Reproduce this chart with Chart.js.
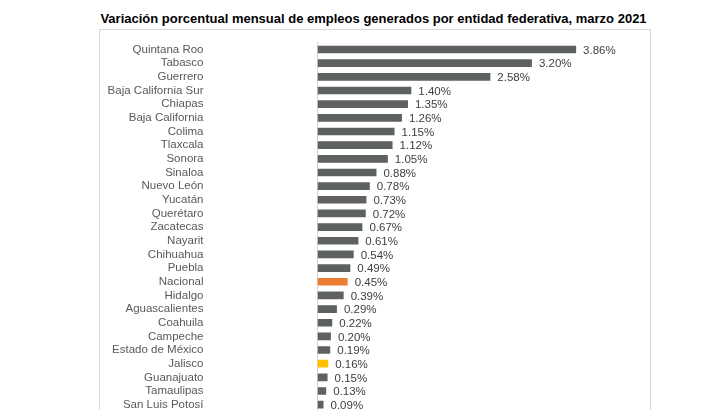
<!DOCTYPE html>
<html>
<head>
<meta charset="utf-8">
<script src="https://cdn.jsdelivr.net/npm/chart.js@4.4.1/dist/chart.umd.min.js"></script>
<style>
  body { margin: 0; background: #fff; width: 720px; height: 410px; overflow: hidden; position: relative; font-family: "Liberation Sans", Arial, sans-serif; }
  #title { position: absolute; left: 0; top: 11px; width: 747px; text-align: center; font-weight: bold; font-size: 13px; color: #000; }
  #frame { position: absolute; left: 99px; top: 29px; width: 550px; height: 400px; border: 1px solid #d9d9d9; }
  #wrap { position: absolute; left: 0; top: 0; width: 550px; height: 390px; }
</style>
</head>
<body>
<div id="title">Variación porcentual mensual de empleos generados por entidad federativa, marzo 2021</div>
<div id="frame">
  <div id="wrap"><canvas id="chart"></canvas></div>
</div>
<script>
// Datos
const entidades = [
  'Quintana Roo', 'Tabasco', 'Guerrero', 'Baja California Sur', 'Chiapas',
  'Baja California', 'Colima', 'Tlaxcala', 'Sonora', 'Sinaloa', 'Nuevo León',
  'Yucatán', 'Querétaro', 'Zacatecas', 'Nayarit', 'Chihuahua', 'Puebla',
  'Nacional', 'Hidalgo', 'Aguascalientes', 'Coahuila', 'Campeche',
  'Estado de México', 'Jalisco', 'Guanajuato', 'Tamaulipas', 'San Luis Potosí'
];
const variacion = [
  3.86, 3.20, 2.58, 1.40, 1.35, 1.26, 1.15, 1.12, 1.05, 0.88, 0.78,
  0.73, 0.72, 0.67, 0.61, 0.54, 0.49, 0.45, 0.39, 0.29, 0.22, 0.20,
  0.19, 0.16, 0.15, 0.13, 0.09
];
const destacados = { 'Nacional': '#ed7d31', 'Jalisco': '#ffc000' };

const colores = entidades.map(e => destacados[e] || '#5d6162');

// etiquetas de valor al final de cada barra
const valueLabels = {
  id: 'valueLabels',
  afterDatasetsDraw(chart) {
    const ctx = chart.ctx;
    const meta = chart.getDatasetMeta(0);
    ctx.save();
    ctx.font = '11.5px "Liberation Sans", Arial, sans-serif';
    ctx.fillStyle = '#404040';
    ctx.textAlign = 'left';
    ctx.textBaseline = 'middle';
    meta.data.forEach((bar, i) => {
      ctx.fillText(variacion[i].toFixed(2) + '%', bar.x + 7, bar.y + 1);
    });
    ctx.restore();
  }
};

new Chart(document.getElementById('chart'), {
  type: 'bar',
  data: {
    labels: entidades,
    datasets: [{
      data: variacion,
      backgroundColor: colores,
      barPercentage: 0.56,
      categoryPercentage: 1
    }]
  },
  options: {
    indexAxis: 'y',
    responsive: true,
    maintainAspectRatio: false,
    animation: false,
    layout: { padding: { top: 12.7, bottom: 8.5, right: 64.5, left: 0 } },
    plugins: {
      legend: { display: false },
      tooltip: { enabled: false }
    },
    scales: {
      x: {
        display: false,
        min: 0,
        max: 4
      },
      y: {
        afterFit(scale) {
          scale.width = 217.5;
          // the big tick padding should only push labels left, not shrink the plot
          scale.paddingTop = 0;
          scale.paddingBottom = 0;
        },
        grid: { display: false, drawTicks: false },
        border: { display: true, color: '#d4d4d4', width: 1 },
        ticks: {
          padding: 114,
          autoSkip: false,
          color: '#595959',
          font: { family: '"Liberation Sans", Arial, sans-serif', size: 11.5 }
        }
      }
    }
  },
  plugins: [valueLabels]
});
</script>
</body>
</html>
